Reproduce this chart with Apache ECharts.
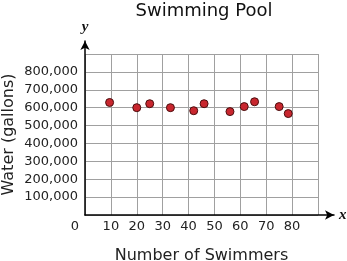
<!DOCTYPE html>
<html><head><meta charset="utf-8">
<script src="https://cdn.jsdelivr.net/npm/echarts@6/dist/echarts.min.js"></script>
<style>html,body{margin:0;padding:0;background:#fff}#c{width:347px;height:261px}</style>
</head><body><div id="c"></div>
<script>
const swimmers = [9.5, 20, 25, 33, 42, 46, 56, 61.5, 65.5, 75, 78.5];
const water = [629000, 600000, 622000, 600000, 583000, 622000, 578000, 606000, 633000, 606000, 567000];
const xTicks = [0, 10, 20, 30, 40, 50, 60, 70, 80];
const yTicks = [100000, 200000, 300000, 400000, 500000, 600000, 700000, 800000];

const font = 'DejaVu Sans';
const chart = echarts.init(document.getElementById('c'), null, {renderer: 'canvas'});
chart.setOption({
  animation: false,
  title: {text: 'Swimming Pool', left: 199, top: -3, textAlign: 'center',
    textStyle: {fontFamily: font, fontSize: 18, fontWeight: 'normal', color: '#111'}},
  grid: [
    {left: 85, top: 54, width: 233, height: 161, containLabel: false, outerBoundsMode: 'none'},
    {left: 85, top: 41, width: 249, height: 174, containLabel: false, outerBoundsMode: 'none'}
  ],
  xAxis: [
    {gridIndex: 0, type: 'value', min: 0, max: 90, interval: 10,
     axisLine: {show: false}, axisTick: {show: false},
     splitLine: {show: true, lineStyle: {color: '#a0a0a0', width: 1}},
     axisLabel: {margin: 5, fontFamily: font, fontSize: 13, color: '#222',
       formatter: v => v === 0 ? '{z|0}' : (xTicks.includes(v) ? String(v) : ''),
       rich: {z: {fontFamily: font, fontSize: 13, color: '#222', padding: [0, 20, 0, 0]}}},
     name: 'Number of Swimmers', nameLocation: 'middle', nameGap: 33, nameMoveOverlap: false,
     nameTextStyle: {fontFamily: font, fontSize: 16, color: '#222'}},
    {gridIndex: 1, type: 'value', min: 0, max: 100,
     axisLine: {show: true, symbol: ['none', 'arrow'], symbolSize: [7, 9], lineStyle: {color: '#000', width: 1.5}},
     axisTick: {show: false}, axisLabel: {show: false}, splitLine: {show: false},
     name: 'x', nameLocation: 'end', nameGap: 5,
     nameTextStyle: {fontFamily: 'Liberation Serif', fontStyle: 'italic', fontWeight: 'bold', fontSize: 15, color: '#111'}}
  ],
  yAxis: [
    {gridIndex: 0, type: 'value', min: 0, max: 900000, interval: 100000,
     axisLine: {show: false}, axisTick: {show: false},
     splitLine: {show: true, lineStyle: {color: '#a0a0a0', width: 1}},
     axisLabel: {margin: 7, fontFamily: font, fontSize: 13, color: '#222',
       formatter: v => yTicks.includes(v) ? v.toLocaleString('en-US') : ''},
     name: 'Water (gallons)', nameLocation: 'middle', nameGap: 68, nameMoveOverlap: false,
     nameTextStyle: {fontFamily: font, fontSize: 16, color: '#222'}},
    {gridIndex: 1, type: 'value', min: 0, max: 100,
     axisLine: {show: true, symbol: ['none', 'arrow'], symbolSize: [7, 9], lineStyle: {color: '#000', width: 1.5}},
     axisTick: {show: false}, axisLabel: {show: false}, splitLine: {show: false},
     name: 'y', nameLocation: 'end', nameGap: 6,
     nameTextStyle: {fontFamily: 'Liberation Serif', fontStyle: 'italic', fontWeight: 'bold', fontSize: 15, color: '#111'}}
  ],
  series: [{
    type: 'scatter', xAxisIndex: 0, yAxisIndex: 0,
    data: swimmers.map((x, i) => [x, water[i]]),
    symbol: 'circle', symbolSize: 8,
    itemStyle: {color: '#c8262e', borderColor: '#4a0d0d', borderWidth: 1, opacity: 1}
  }]
});
</script></body></html>
